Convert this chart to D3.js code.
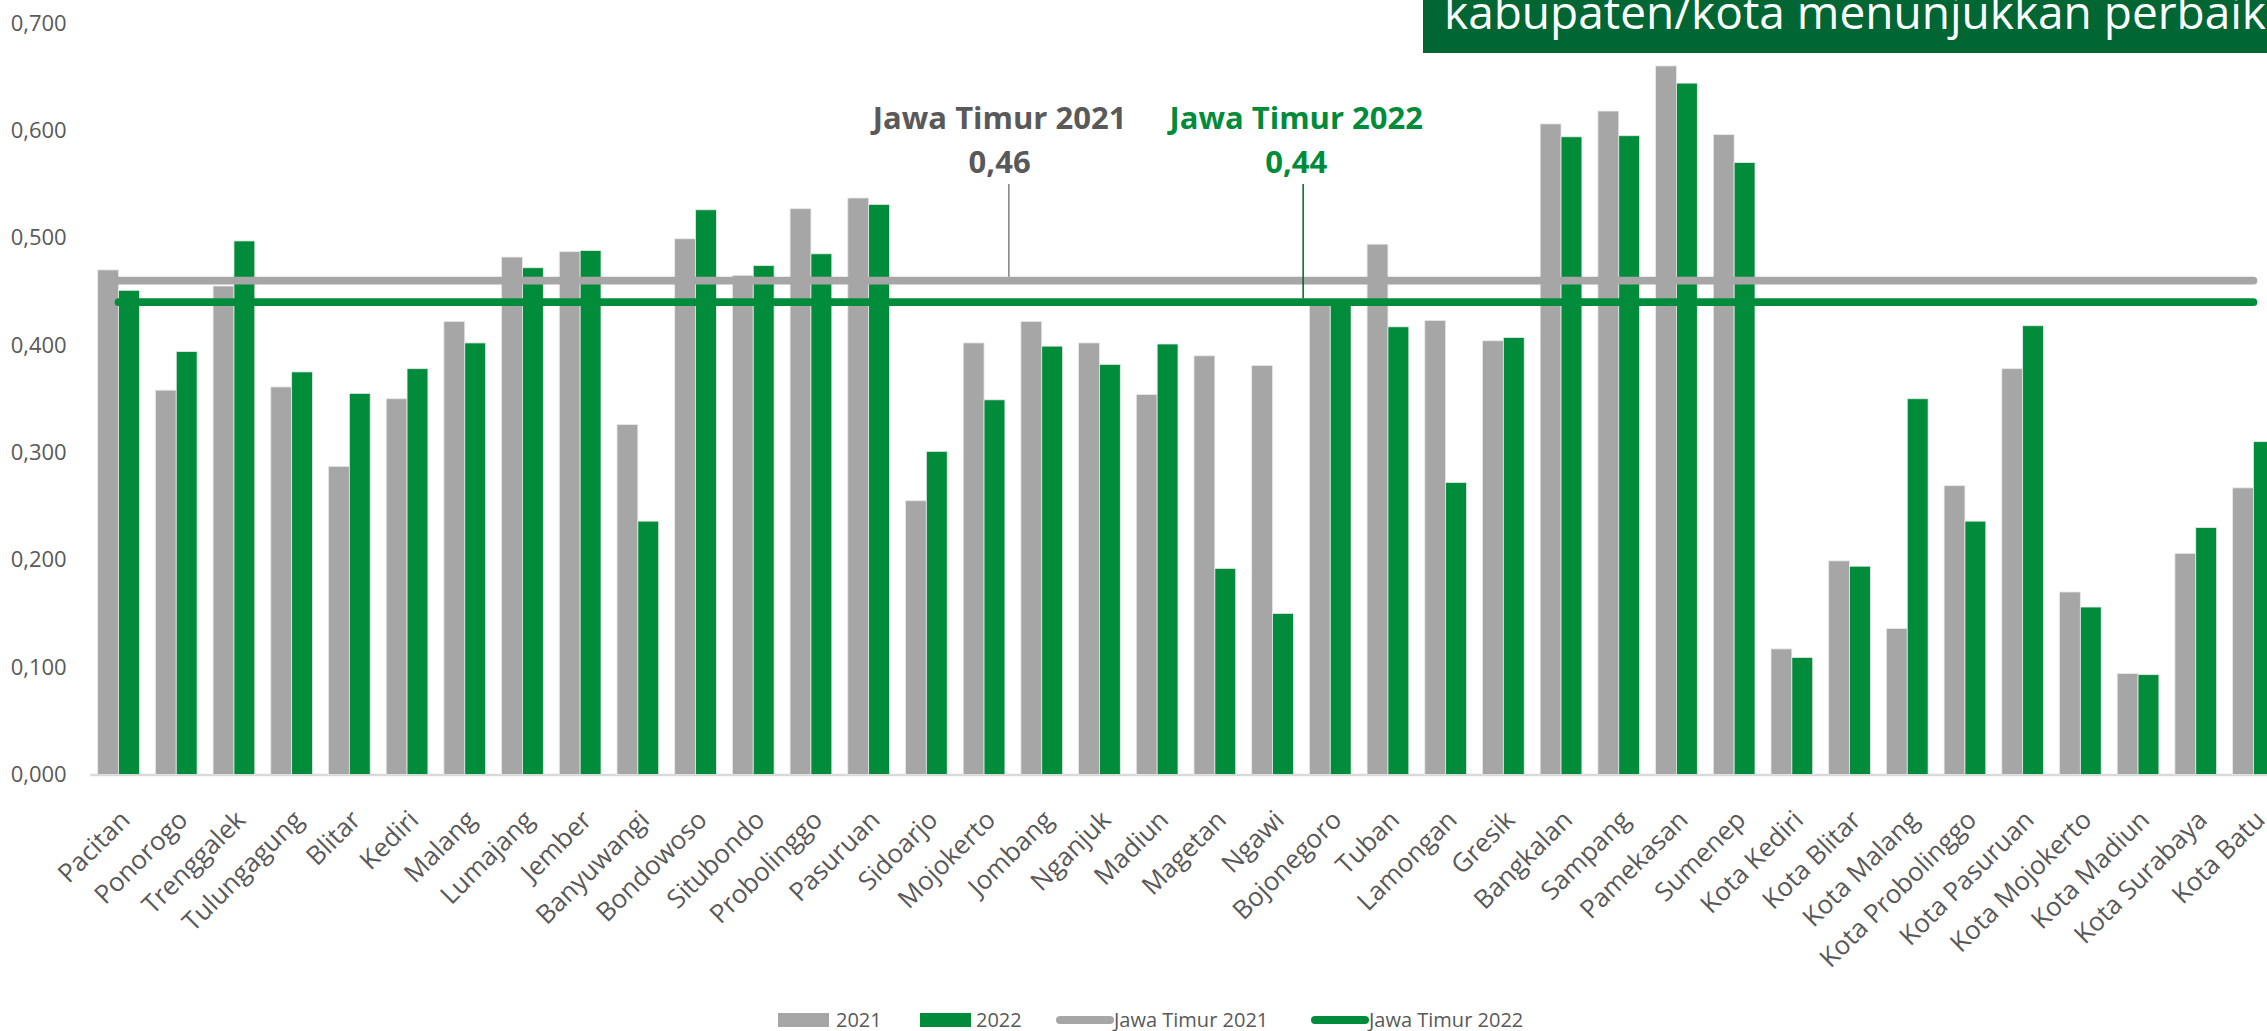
<!DOCTYPE html>
<html>
<head>
<meta charset="utf-8">
<script src="https://cdn.jsdelivr.net/npm/d3@7"></script>
<style>
	html, body { margin: 0; padding: 0; background: #fff; overflow: hidden; }
	svg { display: block; font-family: "Open Sans", "Noto Sans", sans-serif; }
</style>
</head>
<body>
<div id="chart"></div>
<script>
// kabupaten/kota di Jawa Timur
const categories = [
	"Pacitan", "Ponorogo", "Trenggalek", "Tulungagung", "Blitar", "Kediri", "Malang",
	"Lumajang", "Jember", "Banyuwangi", "Bondowoso", "Situbondo", "Probolinggo",
	"Pasuruan", "Sidoarjo", "Mojokerto", "Jombang", "Nganjuk", "Madiun", "Magetan",
	"Ngawi", "Bojonegoro", "Tuban", "Lamongan", "Gresik", "Bangkalan", "Sampang",
	"Pamekasan", "Sumenep", "Kota Kediri", "Kota Blitar", "Kota Malang",
	"Kota Probolinggo", "Kota Pasuruan", "Kota Mojokerto", "Kota Madiun",
	"Kota Surabaya", "Kota Batu"
];

const values2021 = [
	0.470, 0.358, 0.455, 0.361, 0.287, 0.350, 0.422,
	0.482, 0.487, 0.326, 0.499, 0.465, 0.527,
	0.537, 0.255, 0.402, 0.422, 0.402, 0.354, 0.390,
	0.381, 0.438, 0.494, 0.423, 0.404, 0.606, 0.618,
	0.660, 0.596, 0.117, 0.199, 0.136,
	0.269, 0.378, 0.170, 0.094,
	0.206, 0.267
];

const values2022 = [
	0.451, 0.394, 0.497, 0.375, 0.355, 0.378, 0.402,
	0.472, 0.488, 0.236, 0.526, 0.474, 0.485,
	0.531, 0.301, 0.349, 0.399, 0.382, 0.401, 0.192,
	0.150, 0.441, 0.417, 0.272, 0.407, 0.594, 0.595,
	0.644, 0.570, 0.109, 0.194, 0.350,
	0.236, 0.418, 0.156, 0.093,
	0.230, 0.310
];

const avg2021 = 0.46;
const avg2022 = 0.44;

const yTicks = [0, 0.1, 0.2, 0.3, 0.4, 0.5, 0.6, 0.7];

const seriesNames = ["2021", "2022"];
const lineNames = ["Jawa Timur 2021", "Jawa Timur 2022"];
const titleText = "kabupaten/kota menunjukkan perbaikan";

// annotation anchors, in category-index units
const notes = [
	{label: "Jawa Timur 2021", value: avg2021, textIdx: 15.27, leaderIdx: 15.43, color: "#595959", leader: "#7f7f7f"},
	{label: "Jawa Timur 2022", value: avg2022, textIdx: 20.41, leaderIdx: 20.53, color: "#008c3a", leader: "#00602a"}
];

const colors = {gray: "#a6a6a6", green: "#008c3a", text: "#595959", axis: "#d9d9d9", title: "#006633"};

const width = 2267, height = 1031;

const svg = d3.select("#chart").append("svg")
	.attr("width", width)
	.attr("height", height);

const x = d3.scaleBand()
	.domain(categories)
	.range([89.7, 89.7 + 38 * 57.7])
	.paddingInner(0.277)
	.paddingOuter(0.1385);

const xSub = d3.scaleBand()
	.domain(seriesNames)
	.range([0, x.bandwidth()]);

const y = d3.scaleLinear()
	.domain([0, 0.7])
	.range([774.5, 23]);

const idxX = i => x(categories[0]) + x.bandwidth() / 2 + i * x.step();
const fmt = v => d3.format(".3f")(v).replace(".", ",");

// title box (cut by the right edge)
svg.append("rect")
	.attr("x", 1423).attr("y", -10)
	.attr("width", 900).attr("height", 63)
	.attr("fill", colors.title);
svg.append("text")
	.attr("x", 1444).attr("y", 29)
	.attr("fill", "#fff")
	.style("font-size", "46px")
	.text(titleText);

// y axis
const yAxis = svg.append("g")
	.attr("transform", `translate(${x.range()[0]},0)`)
	.call(d3.axisLeft(y).tickValues(yTicks).tickSize(0).tickPadding(23).tickFormat(fmt));
yAxis.select(".domain").remove();
yAxis.selectAll("text")
	.attr("fill", colors.text)
	.style("font-size", "22px")
	.style("font-family", "'Open Sans', sans-serif");

// x axis
const xAxis = svg.append("g")
	.attr("transform", `translate(0,${y(0)})`)
	.call(d3.axisBottom(x).tickSize(0));
xAxis.select(".domain")
	.attr("stroke", colors.axis)
	.attr("stroke-width", 2.5);
xAxis.selectAll("text")
	.attr("y", 0).attr("dy", 0)
	.attr("text-anchor", "end")
	.attr("transform", "translate(13,47) rotate(-45)")
	.attr("fill", colors.text)
	.style("font-size", "26px")
	.style("font-family", "'Open Sans', sans-serif");

// bars
const rows = categories.map((c, i) => ({c, v: [values2021[i], values2022[i]]}));
svg.append("g")
	.selectAll("g")
	.data(rows).enter()
	.append("g")
	.attr("transform", d => `translate(${x(d.c)},0)`)
	.selectAll("rect")
	.data(d => d.v.map((v, k) => ({k, v})))
	.enter()
	.append("rect")
	.attr("x", d => xSub(seriesNames[d.k]))
	.attr("y", d => y(d.v))
	.attr("width", xSub.bandwidth())
	.attr("height", d => y(0) - y(d.v))
	.attr("fill", d => d.k === 0 ? colors.gray : colors.green)
	.attr("stroke", "#e9e9e9")
	.attr("stroke-width", 0.8);

// average lines, drawn over the bars
const avgLine = d3.line().x(d => d[0]).y(d => d[1]);
[[avg2021, colors.gray], [avg2022, colors.green]].forEach(([v, col]) => {
	const first = categories[0], last = categories[categories.length - 1];
	svg.append("path")
		.attr("d", avgLine([[x(first) + x.bandwidth() / 2, y(v)], [x(last) + x.bandwidth() / 2, y(v)]]))
		.attr("stroke", col)
		.attr("stroke-width", 7.7)
		.attr("stroke-linecap", "round")
		.attr("fill", "none");
});

// annotations
notes.forEach(n => {
	svg.append("line")
		.attr("x1", idxX(n.leaderIdx)).attr("x2", idxX(n.leaderIdx))
		.attr("y1", 184).attr("y2", y(n.value) - 4)
		.attr("stroke", n.leader)
		.attr("stroke-width", 1.5);
	svg.append("text")
		.attr("x", idxX(n.textIdx)).attr("y", 129)
		.attr("text-anchor", "middle")
		.attr("fill", n.color)
		.style("font-size", "31px")
		.style("font-weight", 700)
		.text(n.label);
	svg.append("text")
		.attr("x", idxX(n.textIdx)).attr("y", 173)
		.attr("text-anchor", "middle")
		.attr("fill", n.color)
		.style("font-size", "31px")
		.style("font-weight", 700)
		.text(d3.format(".2f")(n.value).replace(".", ","));
});

// legend
const legend = svg.append("g").attr("transform", "translate(0,1020)");
const legendItems = [
	{type: "rect", x: 778, color: colors.gray, label: seriesNames[0], tx: 836},
	{type: "rect", x: 920, color: colors.green, label: seriesNames[1], tx: 976},
	{type: "line", x: 1060, color: colors.gray, label: lineNames[0], tx: 1114},
	{type: "line", x: 1315, color: colors.green, label: lineNames[1], tx: 1369}
];
legendItems.forEach(it => {
	if (it.type === "rect") {
		legend.append("rect")
			.attr("x", it.x).attr("y", -7)
			.attr("width", 51).attr("height", 14)
			.attr("fill", it.color);
	} else {
		legend.append("line")
			.attr("x1", it.x).attr("x2", it.x + 50)
			.attr("y1", 0).attr("y2", 0)
			.attr("stroke", it.color)
			.attr("stroke-width", 8)
			.attr("stroke-linecap", "round");
	}
	legend.append("text")
		.attr("x", it.tx).attr("y", 7)
		.attr("fill", colors.text)
		.style("font-size", "20px")
		.text(it.label);
});
</script>
</body>
</html>
